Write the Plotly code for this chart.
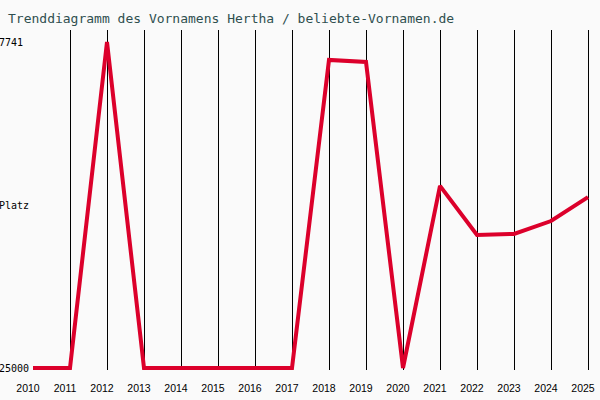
import plotly.graph_objects as go

years = list(range(2010, 2026))
ranks = [25000, 25000, 7741, 25000, 25000, 25000, 25000, 25000,
         8690, 8800, 25000, 15360, 17960, 17900, 17220, 15950]
ytick_vals = [7741, 16370.5, 25000]
ytick_text = ["7741\u00a0", "Platz", "25000"]

fig = go.Figure()
fig.add_trace(go.Scatter(
    x=years, y=ranks, mode="lines",
    line=dict(color="#dc002b", width=4),
    hoverinfo="skip",
))

px_per_year = 37.0
fig.update_layout(
    width=600, height=400,
    margin=dict(l=32, r=0, t=30, b=30, autoexpand=False),
    paper_bgcolor="#fafafa",
    plot_bgcolor="#fafafa",
    showlegend=False,
    hovermode=False,
    title=dict(
        text="Trenddiagramm des Vornamens Hertha / beliebte-Vornamen.de",
        font=dict(family="DejaVu Sans Mono", size=13, color="#2f4f4f"),
        x=0, xanchor="left", xref="container",
        pad=dict(l=8),
        y=1 - 18 / 400, yanchor="middle", yref="container",
    ),
    xaxis=dict(
        range=[2010 - 1 / px_per_year, 2010 + 567 / px_per_year],
        tickvals=years,
        ticktext=[str(y) for y in years],
        showgrid=True, gridcolor="#000000", gridwidth=1,
        zeroline=False, showline=False, ticks="",
        automargin=False,
        tickfont=dict(family="Liberation Sans", size=10.5, color="#000000"),
        ticklabelshift=-5,
        ticklabelstandoff=10,
    ),
    yaxis=dict(
        range=[25105.9, 7105.7],
        tickvals=ytick_vals,
        ticktext=ytick_text,
        showgrid=False, zeroline=False, showline=False, ticks="",
        automargin=False,
        ticklabelstandoff=2,
        tickfont=dict(family="DejaVu Sans Mono", size=10, color="#000000"),
    ),
)

fig.write_html(
    "out.html",
    config={"displayModeBar": False, "staticPlot": True},
    post_script="document.body.style.margin='0';document.body.style.background='#fafafa';",
)
